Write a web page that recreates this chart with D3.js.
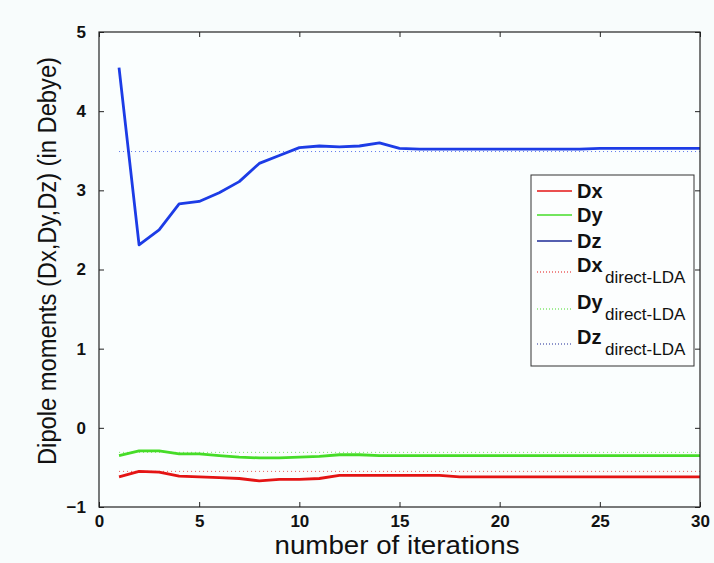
<!DOCTYPE html>
<html>
<head>
<meta charset="utf-8">
<script src="https://cdn.jsdelivr.net/npm/d3@7"></script>
<style>
  body { margin: 0; background: #f8fcfc; }
  svg { display: block; font-family: "Liberation Sans", Arial, sans-serif; }
</style>
</head>
<body>
<div id="chart"></div>
<script>
// dipole moments vs iterations

var iterations = d3.range(1, 31)
var dxValues = [-0.62, -0.55, -0.56, -0.61, -0.62, -0.63, -0.64, -0.67, -0.65, -0.65,
                -0.64, -0.60, -0.60, -0.60, -0.60, -0.60, -0.60, -0.62, -0.62, -0.62,
                -0.62, -0.62, -0.62, -0.62, -0.62, -0.62, -0.62, -0.62, -0.62, -0.62]
var dyValues = [-0.35, -0.29, -0.29, -0.33, -0.33, -0.35, -0.37, -0.38, -0.38, -0.37,
                -0.36, -0.34, -0.34, -0.35, -0.35, -0.35, -0.35, -0.35, -0.35, -0.35,
                -0.35, -0.35, -0.35, -0.35, -0.35, -0.35, -0.35, -0.35, -0.35, -0.35]
var dzValues = [4.55, 2.31, 2.50, 2.83, 2.86, 2.97, 3.11, 3.34, 3.44, 3.54,
                3.56, 3.55, 3.56, 3.60, 3.53, 3.52, 3.52, 3.52, 3.52, 3.52,
                3.52, 3.52, 3.52, 3.52, 3.53, 3.53, 3.53, 3.53, 3.53, 3.53]
var directLDA = {Dx: -0.55, Dy: -0.31, Dz: 3.49}
var xTicks = [0, 5, 10, 15, 20, 25, 30]
var yTicks = [-1, 0, 1, 2, 3, 4, 5]

var w_width = 714, w_height = 563
var mainColor = {red: '#e41414', green: '#46dc28', blue: '#1c3ce6', darkblue: '#1c2a96'}

var series = [
  {name: 'Dx', values: dxValues, color: mainColor['red']},
  {name: 'Dy', values: dyValues, color: mainColor['green']},
  {name: 'Dz', values: dzValues, color: mainColor['blue']}
]

var plot = {left: 99, right: 700, top: 32, bottom: 507}

var x = d3.scaleLinear().domain([0, 30]).range([plot.left, plot.right])
var y = d3.scaleLinear().domain([-1, 5]).range([plot.bottom, plot.top])

var svg = d3.select('#chart').append('svg')
  .attr('width', w_width)
  .attr('height', w_height)

svg.append('rect').attr('width', w_width).attr('height', w_height).attr('fill', '#f8fcfc')
svg.append('rect')
  .attr('x', plot.left).attr('y', plot.top)
  .attr('width', plot.right - plot.left).attr('height', plot.bottom - plot.top)
  .attr('fill', '#fafefe')

// reference (direct-LDA) dotted lines
series.forEach(function(s) {
  svg.append('line')
    .attr('x1', x(1)).attr('x2', x(30))
    .attr('y1', y(directLDA[s.name])).attr('y2', y(directLDA[s.name]))
    .attr('stroke', s.color).attr('stroke-width', 1)
    .attr('stroke-opacity', 0.7)
    .style('stroke-dasharray', '1, 3')
})

var line = d3.line()
  .x(function(d, i) { return x(iterations[i]) })
  .y(function(d) { return y(d) })

series.forEach(function(s) {
  svg.append('path')
    .datum(s.values)
    .attr('d', line)
    .attr('fill', 'none')
    .attr('stroke', s.color)
    .attr('stroke-width', 2.8)
    .attr('stroke-linejoin', 'round')
})

// axes (box with inward ticks)
var axisFont = function(g) {
  g.select('.domain').remove()
  g.selectAll('.tick line').attr('stroke', '#222')
  g.selectAll('.tick text')
    .attr('fill', '#111')
    .style('font-size', '17px')
    .style('font-weight', 'bold')
}

svg.append('g')
  .attr('transform', 'translate(0,' + plot.bottom + ')')
  .call(d3.axisBottom(x).tickValues(xTicks).tickSize(-5).tickPadding(8).tickFormat(d3.format('d')))
  .call(axisFont)
svg.append('g')
  .attr('transform', 'translate(0,' + plot.top + ')')
  .call(d3.axisTop(x).tickValues(xTicks).tickSize(-5).tickFormat(''))
  .call(axisFont)
svg.append('g')
  .attr('transform', 'translate(' + plot.left + ',0)')
  .call(d3.axisLeft(y).tickValues(yTicks).tickSize(-5).tickPadding(13).tickFormat(d3.format('d')))
  .call(axisFont)
svg.append('g')
  .attr('transform', 'translate(' + plot.right + ',0)')
  .call(d3.axisRight(y).tickValues(yTicks).tickSize(-5).tickFormat(''))
  .call(axisFont)

svg.append('rect')
  .attr('x', plot.left).attr('y', plot.top)
  .attr('width', plot.right - plot.left).attr('height', plot.bottom - plot.top)
  .attr('fill', 'none').attr('stroke', '#222').attr('stroke-width', 1.2)

// axis titles
svg.append('text')
  .attr('x', 397).attr('y', 554)
  .attr('text-anchor', 'middle')
  .attr('textLength', 245).attr('lengthAdjust', 'spacingAndGlyphs')
  .style('font-size', '25px').attr('fill', '#111')
  .text('number of iterations')
svg.append('text')
  .attr('transform', 'translate(56,' + 261 + ') rotate(-90)')
  .attr('text-anchor', 'middle')
  .attr('textLength', 408).attr('lengthAdjust', 'spacingAndGlyphs')
  .style('font-size', '25px').attr('fill', '#111')
  .text('Dipole moments (Dx,Dy,Dz) (in Debye)')

// legend
var legend = svg.append('g').attr('transform', 'translate(531,175)')
legend.append('rect')
  .attr('width', 163).attr('height', 191)
  .attr('fill', '#fcfefe').attr('stroke', '#333').attr('stroke-width', 1)

var legendRows = [
  {label: 'Dx', color: mainColor['red'], dotted: false, y: 16},
  {label: 'Dy', color: mainColor['green'], dotted: false, y: 40},
  {label: 'Dz', color: mainColor['darkblue'], dotted: false, y: 66},
  {label: 'Dx', color: mainColor['red'], dotted: true, y: 97},
  {label: 'Dy', color: mainColor['green'], dotted: true, y: 134},
  {label: 'Dz', color: mainColor['darkblue'], dotted: true, y: 169}
]

legendRows.forEach(function(r) {
  legend.append('line')
    .attr('x1', 6).attr('x2', 41).attr('y1', r.y).attr('y2', r.y)
    .attr('stroke', r.color)
    .attr('stroke-width', r.dotted ? 1 : 1.6)
    .style('stroke-dasharray', r.dotted ? '1, 2' : null)
  legend.append('text')
    .attr('x', 46).attr('y', r.dotted ? r.y : r.y + 7)
    .attr('fill', '#111')
    .style('font-size', '20px').style('font-weight', 'bold')
    .text(r.label)
  if (r.dotted) {
    legend.append('text')
      .attr('x', 74).attr('y', r.y + 11)
      .attr('fill', '#111')
      .style('font-size', '17px')
      .text('direct-LDA')
  }
})
</script>
</body>
</html>
